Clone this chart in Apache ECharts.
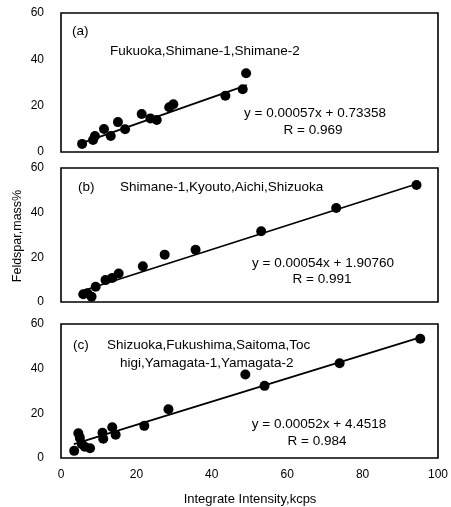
<!DOCTYPE html>
<html><head><meta charset="utf-8">
<script src="https://cdn.jsdelivr.net/npm/echarts@6/dist/echarts.min.js"></script>
<style>html,body{margin:0;padding:0;background:#fff}#c{width:451px;height:507px}</style>
</head><body><div id="c"></div>
<script>
// Panel (a)
const xA = [5.6, 8.5, 9.0, 11.4, 13.2, 15.1, 17.0, 21.4, 23.7, 25.4, 28.7, 29.8, 43.6, 48.2, 49.1];
const yA = [3.5, 5.2, 6.9, 9.9, 6.9, 12.9, 9.8, 16.4, 14.5, 13.8, 19.3, 20.6, 24.3, 27.1, 34.0];
// Panel (b)
const xB = [5.9, 7.0, 8.1, 9.2, 11.8, 13.6, 15.3, 21.7, 27.5, 35.7, 53.1, 73.0, 94.3];
const yB = [3.5, 3.9, 2.4, 6.8, 9.8, 10.8, 12.8, 16.0, 21.2, 23.4, 31.7, 42.1, 52.4];
// Panel (c)
const xC = [3.5, 4.6, 5.0, 5.5, 6.3, 7.7, 11.0, 11.2, 13.6, 14.5, 22.1, 28.5, 48.9, 54.0, 73.9, 95.3];
const yC = [3.2, 11.1, 9.0, 6.3, 5.0, 4.4, 11.3, 8.6, 13.8, 10.4, 14.4, 21.8, 37.4, 32.3, 42.4, 53.4];
// regression lines: slope per kcps, intercept, x range
const slopes = [0.57, 0.54, 0.52];
const intercepts = [0.73358, 1.90760, 4.4518];
const lineRanges = [[5.5, 49.3], [5.8, 94.3], [3.4, 95.3]];
const yTicks = [0, 20, 40, 60];
const xTicks = [0, 20, 40, 60, 80, 100];
const panelTags = ['(a)', '(b)', '(c)'];
const eqTexts = ['y = 0.00057x + 0.73358', 'y = 0.00054x + 1.90760', 'y = 0.00052x + 4.4518'];
const rTexts = ['R = 0.969', 'R = 0.991', 'R = 0.984'];
const siteTexts = ['Fukuoka,Shimane-1,Shimane-2', 'Shimane-1,Kyouto,Aichi,Shizuoka', 'Shizuoka,Fukushima,Saitoma,Toc\nhigi,Yamagata-1,Yamagata-2'];
const xTitle = 'Integrate Intensity,kcps';
const yTitle = 'Feldspar,mass%';

const FONT = 'Liberation Sans';
const chart = echarts.init(document.getElementById('c'), null, {renderer: 'canvas'});
const grids = [
  {left: 61, width: 377, top: 13, height: 139},
  {left: 61, width: 377, top: 168, height: 134},
  {left: 61, width: 377, top: 324, height: 134}
].map(g => Object.assign({show: true, borderColor: '#000', borderWidth: 1.6, backgroundColor: '#fff'}, g));

const xAxes = [0,1,2].map(i => ({
  gridIndex: i, type: 'value', min: xTicks[0], max: xTicks[xTicks.length-1], interval: 20,
  axisLine: {show: false}, axisTick: {show: false}, splitLine: {show: false},
  axisLabel: {show: i === 2, color: '#000', fontSize: 12, fontFamily: FONT, margin: 11, showMaxLabel: true}
}));
const yAxes = [0,1,2].map(i => ({
  gridIndex: i, type: 'value', min: yTicks[0], max: yTicks[yTicks.length-1], interval: 20,
  axisLine: {show: false}, axisTick: {show: false}, splitLine: {show: false},
  axisLabel: {color: '#000', fontSize: 12, fontFamily: FONT, margin: 17}
}));
const xs = [xA, xB, xC], ys = [yA, yB, yC];
const series = [];
for (let i = 0; i < 3; i++) {
  const r = lineRanges[i];
  series.push({
    type: 'line', xAxisIndex: i, yAxisIndex: i, symbol: 'none', silent: true,
    lineStyle: {color: '#000', width: 1.8},
    data: r.map(x => [x, slopes[i] * x + intercepts[i]]), z: 2
  });
  series.push({
    type: 'scatter', xAxisIndex: i, yAxisIndex: i, symbol: 'circle', symbolSize: 10,
    itemStyle: {color: '#000', opacity: 1}, data: xs[i].map((x, k) => [x, ys[i][k]]), z: 3
  });
}
const txt = (x, y, text, opts) => ({
  type: 'text', x: x, y: y, z: 10,
  style: Object.assign({text: text, fill: '#000', font: '13.5px "' + FONT + '"', textAlign: 'left', textVerticalAlign: 'middle'}, opts || {})
});
const graphic = [
  txt(72, 31, panelTags[0]),
  txt(110, 51, siteTexts[0]),
  txt(315, 113, eqTexts[0], {textAlign: 'center'}),
  txt(313, 130, rTexts[0], {textAlign: 'center'}),
  txt(78, 187, panelTags[1]),
  txt(120, 187, siteTexts[1]),
  txt(323, 263, eqTexts[1], {textAlign: 'center'}),
  txt(322, 279, rTexts[1], {textAlign: 'center'}),
  txt(73, 345, panelTags[2]),
  txt(107, 345, siteTexts[2].split('\n')[0]),
  txt(120, 363, siteTexts[2].split('\n')[1]),
  txt(319, 424, eqTexts[2], {textAlign: 'center'}),
  txt(317, 441, rTexts[2], {textAlign: 'center'}),
  txt(250, 499, xTitle, {textAlign: 'center', font: '13px "' + FONT + '"'}),
  {type: 'text', x: 18, y: 236, rotation: Math.PI / 2, z: 10,
   style: {text: yTitle, fill: '#000', font: '12.5px "' + FONT + '"', textAlign: 'center', textVerticalAlign: 'middle'}}
];
chart.setOption({
  animation: false, backgroundColor: '#fff',
  grid: grids, xAxis: xAxes, yAxis: yAxes, series: series, graphic: graphic
});
</script></body></html>
